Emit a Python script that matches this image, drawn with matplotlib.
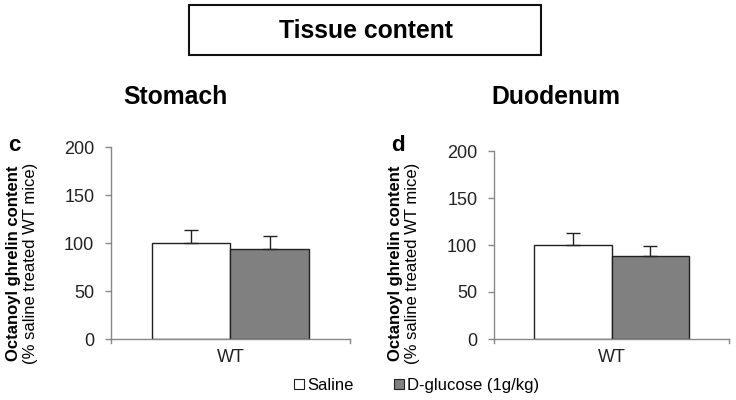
import matplotlib
matplotlib.use("Agg")
import matplotlib.pyplot as plt
from matplotlib.patches import Rectangle, Patch

plt.rcParams['font.family'] = ['Liberation Sans', 'DejaVu Sans']

groups = ["WT"]
series = ["Saline", "D-glucose (1g/kg)"]
stomach_means = [100, 94]
stomach_err = [13.5, 13]
duodenum_means = [100, 88.5]
duodenum_err = [12.5, 10.5]
yticks = [0, 50, 100, 150, 200]
colors = ["white", "#808080"]

fig = plt.figure(figsize=(7.36, 4.0), dpi=100)

def panel(rect, means, errs, letter, title, title_x, letter_x, ylab_x):
    ax = fig.add_axes(rect)
    w = 0.33
    xs = [-w / 2, w / 2]
    for x, m, e, c in zip(xs, means, errs, colors):
        ax.bar(x, m, width=w, color=c, edgecolor="#222222", linewidth=1.0, zorder=2)
        ax.errorbar(x, m, yerr=[[0], [e]], fmt="none", ecolor="#222222",
                    elinewidth=1.0, capsize=5, capthick=1.0, zorder=3)
    ax.set_xlim(-0.5, 0.5)
    ax.set_ylim(0, 200)
    ax.set_yticks(yticks)
    ax.set_yticklabels([str(t) for t in yticks], fontsize=13, color="#222222")
    ax.set_xticks([0])
    ax.set_xticklabels(groups, fontsize=13, color="#222222")
    ax.tick_params(axis="x", length=0, pad=7)
    ax.tick_params(axis="y", length=4, color="#888888", width=1, pad=8)
    for s in ["top", "right"]:
        ax.spines[s].set_visible(False)
    for s in ["left", "bottom"]:
        ax.spines[s].set_color("#888888")
        ax.spines[s].set_linewidth(1)
    # boundary ticks on x axis (Excel style)
    for xb in [-0.5, 0.5]:
        ax.plot([xb, xb], [0, -4], color="#888888", lw=1, clip_on=False,
                transform=ax.transData)
    # labels
    fig.text(ylab_x, 0.342, "Octanoyl ghrelin content", rotation=90,
             fontsize=12, fontweight="bold", ha="center", va="center")
    fig.text(ylab_x + 0.023, 0.342, "(% saline treated WT mice)", rotation=90,
             fontsize=12, ha="center", va="center")
    fig.text(letter_x, 0.637, letter, fontsize=16, fontweight="bold",
             ha="center", va="center")
    fig.text(title_x, 0.757, title, fontsize=17.8, fontweight="bold",
             ha="left", va="center")
    return ax

panel([0.1508, 0.1525, 0.3247, 0.48], stomach_means, stomach_err,
      "c", "Stomach", 0.168, 0.019, 0.019)
panel([0.6712, 0.1525, 0.3193, 0.47], duodenum_means, duodenum_err,
      "d", "Duodenum", 0.668, 0.540, 0.537)

# Title box
fig.patches.append(Rectangle((189 / 736, 1 - 55 / 400), (541 - 189) / 736, 50 / 400,
                             transform=fig.transFigure, facecolor="white",
                             edgecolor="#111111", linewidth=1.5))
fig.text(366 / 736, 1 - 31 / 400, "Tissue content", fontsize=17.8,
         fontweight="bold", ha="center", va="center")

handles = [Patch(facecolor=c, edgecolor="#222222", linewidth=0.8) for c in colors]
fig.legend(handles, series, loc="center", bbox_to_anchor=(0.566, 0.037), ncol=2,
           frameon=False, fontsize=12, handlelength=0.6, handleheight=0.6,
           handletextpad=0.2, columnspacing=2.4)

fig.savefig("out.png", dpi=100)
